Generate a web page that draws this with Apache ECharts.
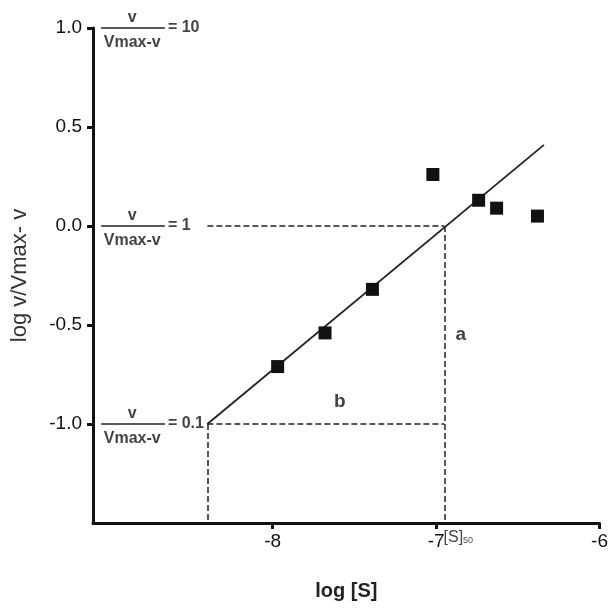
<!DOCTYPE html>
<html>
<head>
<meta charset="utf-8">
<script src="https://cdn.jsdelivr.net/npm/echarts@6/dist/echarts.min.js"></script>
<style>
  html, body { margin: 0; padding: 0; background: #fff; }
  #chart { width: 611px; height: 610px; }
</style>
</head>
<body>
<div id="chart"></div>
<script>
// measured points (log [S], log v/(Vmax-v))
const logS = [-7.97, -7.68, -7.39, -7.02, -6.74, -6.63, -6.38]
const logRatio = [-0.71, -0.54, -0.32, 0.26, 0.13, 0.09, 0.05]

// fitted line end points
const fitX = [-8.40, -6.34]
const fitY = [-1.0, 0.41]

// guide values
const s50X = -6.95
const startX = -8.40

const xTicks = [-8, -7, -6]
const yTicks = [-1, -0.5, 0, 0.5, 1]

// ratio annotations at log = 1, 0, -1
const ratioY = [1, 0, -1]
const ratioText = ['10', '1', '0.1']

const fracX0 = -9.05
const fracX1 = -8.66
const fracMid = -8.86

const noteX = [-6.85, -7.59]
const noteY = [-0.55, -0.89]
const noteText = ['a', 'b']

const chart = echarts.init(document.getElementById('chart'))

const ink = '#111'
const font = 'Liberation Sans, Arial, sans-serif'

const guideLines = [
  [{ coord: [startX, 0] }, { coord: [s50X, 0] }],
  [{ coord: [startX, -1] }, { coord: [s50X, -1] }],
  [{ coord: [startX, -1] }, { coord: [startX, -1.5] }],
  [{ coord: [s50X, 0] }, { coord: [s50X, -1.5] }]
]

const fracBars = ratioY.map(y => [{ coord: [fracX0, y] }, { coord: [fracX1, y] }])

const fracLabels = []
ratioY.forEach((y, i) => {
  fracLabels.push({ value: [fracMid, y], label: { position: 'top', distance: 2, formatter: 'v' } })
  fracLabels.push({ value: [fracMid, y], label: { position: 'bottom', distance: 7, formatter: 'Vmax-v' } })
  fracLabels.push({ value: [fracX1, y], label: { position: 'right', distance: 3, formatter: '= ' + ratioText[i] } })
})

const option = {
  animation: false,
  grid: { left: 93, right: 8, top: 28, bottom: 87 },
  xAxis: {
    type: 'value',
    min: -9.1,
    max: -6,
    name: 'log [S]',
    nameLocation: 'middle',
    nameGap: 58,
    nameTextStyle: { fontFamily: font, fontSize: 20, fontWeight: 'bold', color: '#222' },
    axisLine: { onZero: false, lineStyle: { color: '#111', width: 3 } },
    axisTick: { customValues: xTicks, length: 6, lineStyle: { width: 3, color: '#111' } },
    axisLabel: { customValues: xTicks, margin: 9, fontFamily: font, fontSize: 19, color: ink },
    splitLine: { show: false }
  },
  yAxis: {
    type: 'value',
    min: -1.5,
    max: 1,
    interval: 0.5,
    name: 'log v/Vmax- v',
    nameLocation: 'middle',
    nameGap: 62,
    nameTextStyle: { fontFamily: font, fontSize: 22, color: '#333' },
    axisLine: { show: true, onZero: false, lineStyle: { color: '#111', width: 3 } },
    axisTick: { show: true, customValues: yTicks, length: 6, lineStyle: { width: 3, color: '#111' } },
    axisLabel: {
      customValues: yTicks,
      margin: 11,
      fontFamily: font,
      fontSize: 19,
      color: ink,
      formatter: v => v.toFixed(1)
    },
    splitLine: { show: false }
  },
  series: [
    {
      name: 'fit',
      type: 'line',
      data: fitX.map((x, i) => [x, fitY[i]]),
      symbol: 'none',
      lineStyle: { color: '#222', width: 1.8 },
      markLine: {
        silent: true,
        symbol: 'none',
        label: { show: false },
        lineStyle: { color: '#222', width: 1.5, type: [6, 3] },
        data: guideLines
      }
    },
    {
      name: 'frac',
      type: 'line',
      data: [],
      markLine: {
        silent: true,
        symbol: 'none',
        label: { show: false },
        lineStyle: { color: '#222', width: 1.5, type: 'solid' },
        data: fracBars
      }
    },
    {
      name: 'data',
      type: 'scatter',
      data: logS.map((x, i) => [x, logRatio[i]]),
      symbol: 'rect',
      symbolSize: 13,
      itemStyle: { color: '#111', opacity: 1 },
      z: 5
    },
    {
      name: 'fracLabels',
      type: 'scatter',
      data: fracLabels,
      symbolSize: 0,
      silent: true,
      clip: false,
      label: { show: true, fontFamily: font, fontSize: 16, fontWeight: 'bold', color: ink }
    },
    {
      name: 'notes',
      type: 'scatter',
      data: noteX.map((x, i) => [x, noteY[i], noteText[i]]),
      symbolSize: 0,
      silent: true,
      label: {
        show: true,
        position: 'inside',
        formatter: p => p.value[2],
        fontFamily: font,
        fontSize: 19,
        fontWeight: 'bold',
        color: ink
      }
    },
    {
      name: 's50',
      type: 'scatter',
      data: [[s50X, -1.5]],
      symbolSize: 0,
      silent: true,
      clip: false,
      label: {
        show: true,
        position: 'bottom',
        distance: 7,
        offset: [14, 0],
        formatter: '{s|[S]}{sub|50}',
        rich: {
          s: { fontFamily: font, fontSize: 16, color: ink, verticalAlign: 'top' },
          sub: { fontFamily: font, fontSize: 9, color: ink, padding: [6, 0, 0, 0] }
        }
      }
    }
  ]
}

chart.setOption(option)
window.addEventListener('resize', () => chart.resize())
</script>
</body>
</html>
